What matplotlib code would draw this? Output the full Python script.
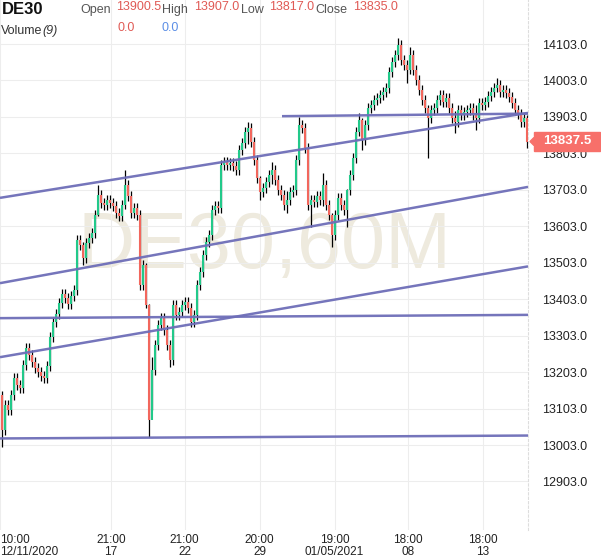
import matplotlib.pyplot as plt
from matplotlib.patches import Polygon, Rectangle

# 60-minute DE30 candles, closes (oldest first)
closes = [
    13044, 13113, 13099, 13140, 13187, 13168, 13159, 13222, 13269, 13250,
    13231, 13214, 13203, 13192, 13187, 13220, 13299, 13341, 13362, 13393,
    13417, 13406, 13390, 13412, 13428, 13565, 13552, 13516, 13557, 13571,
    13585, 13634, 13689, 13667, 13661, 13675, 13667, 13659, 13639, 13631,
    13661, 13716, 13686, 13639, 13653, 13634, 13442, 13497, 13387, 13072,
    13209, 13277, 13332, 13351, 13319, 13277, 13236, 13387, 13360, 13368,
    13387, 13395, 13379, 13341, 13360, 13442, 13478, 13524, 13560, 13579,
    13648, 13659, 13653, 13771, 13779, 13771, 13777, 13768, 13757, 13812,
    13831, 13862, 13873, 13834, 13785, 13735, 13697, 13708, 13724, 13744,
    13757, 13730, 13702, 13689, 13661, 13675, 13697, 13702, 13785, 13881,
    13873, 13818, 13661, 13675, 13670, 13686, 13675, 13716, 13661, 13634,
    13579, 13634, 13681, 13661, 13648, 13702, 13744, 13790, 13862, 13895,
    13840, 13881, 13927, 13936, 13949, 13955, 13963, 13971, 13982, 14026,
    14054, 14073, 14100, 14059, 14045, 14032, 14073, 14032, 14004, 13977,
    13949, 13927, 13900, 13922, 13927, 13949, 13963, 13944, 13955, 13927,
    13900, 13889, 13922, 13908, 13916, 13922, 13927, 13908, 13900, 13941,
    13936, 13944, 13960, 13971, 13982, 13990, 13971, 13977, 13969, 13958,
    13941, 13922, 13911, 13889, 13900, 13835,
]
first_open = 13140
last_open = 13900.5
typical_wick = 14

# bars with long wicks: index -> (high, low)
spikes = {
    0: (13152, 12998), 27: (13560, 13497), 32: (13716, 13630),
    41: (13757, 13650), 48: (13502, 13380), 49: (13390, 13025),
    50: (13244, 13099), 56: (13290, 13217), 82: (13889, 13830),
    86: (13740, 13675), 90: (13779, 13720), 95: (13700, 13639),
    99: (13903, 13770), 103: (13690, 13601), 107: (13749, 13660),
    110: (13640, 13546), 115: (13705, 13601), 119: (13914, 13850),
    120: (13900, 13812), 132: (14119, 14060), 135: (14060, 13996),
    136: (14095, 14020), 142: (13935, 13790), 151: (13920, 13859),
    158: (13935, 13867), 165: (14010, 13970), 175: (13907, 13817),
}

price_ticks = [12903 + 100 * k for k in range(13)]
time_ticks = [-0.5, 36.5, 61, 86, 111, 135.5, 160.5]
time_labels = ["10:00\n12/11/2020", "21:00\n17", "21:00\n22", "20:00\n29",
               "19:00\n01/05/2021", "18:00\n08", "18:00\n13"]

# drawn trend lines: (bar0, price0, bar1, price1)
trend_lines = [
    (-0.5, 13681, 175.5, 13914),
    (93.5, 13905, 175.5, 13912),
    (-0.5, 13447, 175.5, 13711),
    (-0.5, 13244, 175.5, 13493),
    (-0.5, 13351, 175.5, 13360),
    (-0.5, 13021, 175.5, 13029),
]

up_col = "#22c98a"
down_col = "#f2675d"
line_col = "#6e6eb8"

plt.rcParams["font.family"] = ["Liberation Sans", "DejaVu Sans"]

fig = plt.figure(figsize=(6.01, 5.58), dpi=100)
W, H = 601, 558
ax = fig.add_axes([0, 28 / H, 528 / W, 530 / H])
ax.set_xlim(-0.5, 175.5)
ax.set_ylim(12769.9, 14223.7)

ax.text(87.5, 13544, "DE30,60M", fontsize=57, color="#eeeade",
        ha="center", va="center", zorder=0)

opens = [first_open] + closes[:-2] + [last_open]
for i, c in enumerate(closes):
    o = opens[i]
    hi, lo = spikes.get(i, (max(o, c) + typical_wick, min(o, c) - typical_wick))
    ax.vlines(i, lo, hi, color="black", lw=0.9, zorder=2)
    col = up_col if c >= o else down_col
    b0, b1 = min(o, c), max(o, c)
    if b1 - b0 < 3:
        b1 = b0 + 3
    ax.vlines(i, b0, b1, color=col, lw=1.5, zorder=3)

for x0, p0, x1, p1 in trend_lines:
    ax.plot([x0, x1], [p0, p1], color=line_col, lw=1.8, alpha=0.95,
            zorder=4, solid_capstyle="butt")

ax.set_yticks(price_ticks)
ax.set_yticklabels([f"{p:.1f}" for p in price_ticks])
ax.yaxis.tick_right()
ax.set_xticks(time_ticks)
ax.set_xticklabels(time_labels, linespacing=0.95)
ax.tick_params(length=0, labelsize=8.5, colors="#222222")
ax.tick_params(axis="y", pad=10, labelsize=9)
ax.tick_params(axis="x", pad=3)
ax.xaxis.get_ticklabels()[0].set_ha("left")
ax.grid(color="#ededed", lw=0.8, zorder=0)
for side in ["top", "left", "bottom"]:
    ax.spines[side].set_visible(False)
ax.spines["right"].set_color("#dddddd")
ax.spines["right"].set_linestyle((0, (2, 2)))

# header
def ftext(x, y, s, **kw):
    fig.text(x / W, 1 - y / H, s, va="center", **kw)

ftext(2, 9, "DE30", fontsize=12, fontweight="bold", color="#111111")
items = [(80, "Open", 116, "13900.5"), (162, "High", 194, "13907.0"),
         (241, "Low", 269, "13817.0"), (315, "Close", 353, "13835.0")]
for lx, lab, vx, val in items:
    ftext(lx, 10, lab, fontsize=9, color="#555555")
    ftext(vx, 7, val, fontsize=9, color="#e05a55")
ftext(1, 31, "Volume", fontsize=9, color="#333333")
ftext(42, 31, "(9)", fontsize=9, color="#333333", style="italic")
ftext(117, 28, "0.0", fontsize=9, color="#e05a55")
ftext(162, 28, "0.0", fontsize=9, color="#5b8ee6")

# last price marker
fig.add_artist(Rectangle((534 / W, 1 - 151 / H), 66 / W, 19 / H,
                         transform=fig.transFigure, color="#f7706a", zorder=5))
fig.add_artist(Polygon([(530 / W, 1 - 141.5 / H), (534 / W, 1 - 137.5 / H),
                        (534 / W, 1 - 145.5 / H)], transform=fig.transFigure,
                       color="#f7706a", zorder=5))
t = fig.text(567 / W, 1 - 141.5 / H, "13837.5", ha="center", va="center",
             fontsize=9.5, color="white", fontweight="bold")
t.set_zorder(6)

fig.savefig("out.png", dpi=100)
